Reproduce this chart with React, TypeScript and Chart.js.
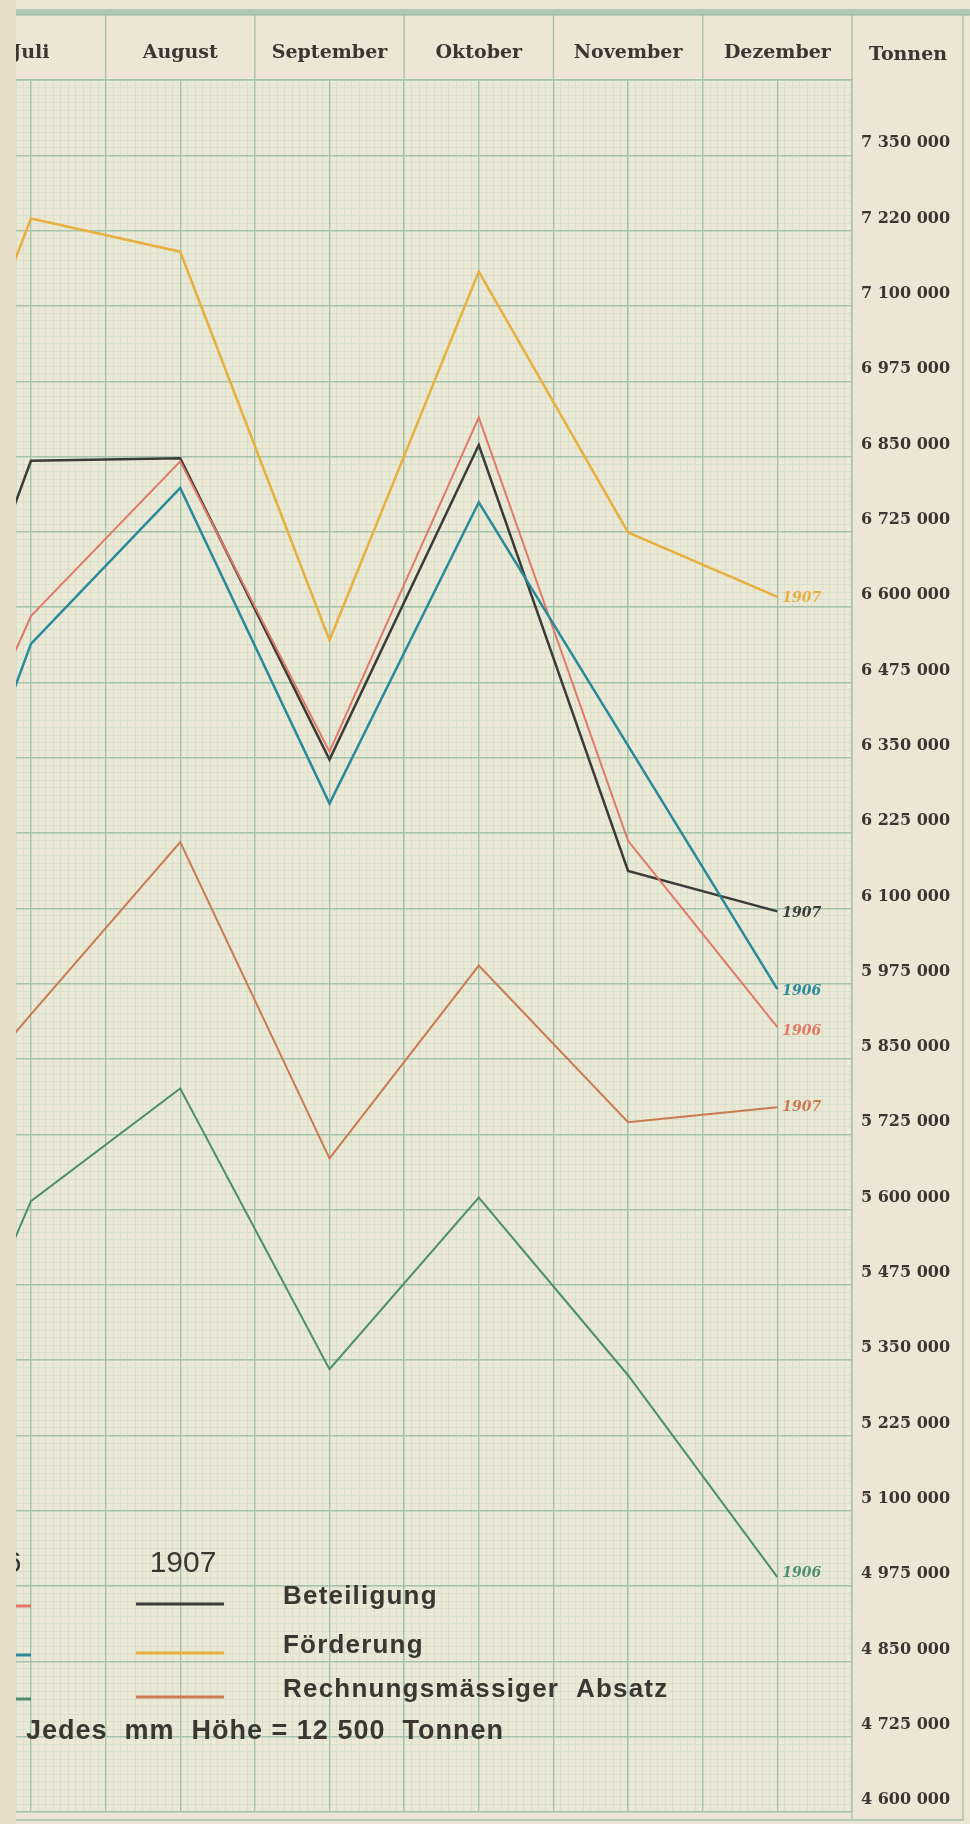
import React, { useEffect, useRef } from 'react';
import { Chart, registerables } from 'chart.js';

Chart.register(...registerables);

// ---- data ----
// x positions: Juni (off the left edge, only the entering segment is visible) .. Dezember
const monthPos = [-1, 0, 1, 2, 3, 4, 5];
const headerLabels = ['Juli', 'August', 'September', 'Oktober', 'November', 'Dezember'];
const tonnenLabels = [
  '7 350 000', '7 220 000', '7 100 000', '6 975 000', '6 850 000', '6 725 000',
  '6 600 000', '6 475 000', '6 350 000', '6 225 000', '6 100 000', '5 975 000',
  '5 850 000', '5 725 000', '5 600 000', '5 475 000', '5 350 000', '5 225 000',
  '5 100 000', '4 975 000', '4 850 000', '4 725 000', '4 600 000',
];
const foerderung1907 = [6600000, 7245000, 7190000, 6545000, 7157000, 6724000, 6617000];
const beteiligung1907 = [6169000, 6843000, 6847000, 6347000, 6869000, 6162000, 6095000];
const beteiligung1906 = [6028000, 6585000, 6842000, 6360000, 6915000, 6212000, 5903000];
const foerderung1906 = [5865000, 6539000, 6798000, 6274000, 6774000, 6370000, 5966000];
const absatz1907 = [5634000, 5924000, 6210000, 5685000, 6005000, 5745000, 5770000];
const absatz1906 = [5034000, 5614000, 5801000, 5335000, 5620000, 5325000, 4990000];

const legendYears = ['1906', '1907'];
const legendNames = ['Beteiligung', 'Förderung', 'Rechnungsmässiger  Absatz'];
const scaleNote = 'Jedes  mm  Höhe = 12 500  Tonnen';
const unitLabel = 'Tonnen';

// ---- styles ----
const C_BLACK = '#3b3c37';
const C_ORANGE = '#E8B13F';
const C_BROWN = '#C97A52';
const C_RED = '#E27868';
const C_TEAL = '#2A8A99';
const C_GREEN = '#4E8E6E';
const PAPER = '#EBE9D6';
const MINOR = '#D6E0CD';
const MAJOR = '#A5C3AC';
const TEXT = '#3a3631';

const Y_MIN = 4600000;
const Y_MAX = 7475000;
const X_MIN = -0.1;
const X_MAX = 5.5;

function toPoints(vals: number[]) {
  return vals.map((v, i) => ({ x: monthPos[i], y: v }));
}

function rangeTicks(min: number, max: number, step: number) {
  const out: { value: number }[] = [];
  const n = Math.round((max - min) / step);
  for (let i = 0; i <= n; i++) out.push({ value: +(min + i * step).toFixed(6) });
  return out;
}

function noPad(s: any) {
  s.paddingLeft = 0;
  s.paddingRight = 0;
  s.paddingTop = 0;
  s.paddingBottom = 0;
}

const paperPlugin = {
  id: 'paper',
  beforeDraw(chart: any) {
    const { ctx, chartArea } = chart;
    ctx.save();
    ctx.fillStyle = PAPER;
    ctx.fillRect(chartArea.left, chartArea.top, chartArea.right - chartArea.left, chartArea.bottom - chartArea.top);
    // top band
    ctx.fillStyle = '#AFCAB3';
    ctx.fillRect(0, 9, chart.width, 6);
    ctx.fillStyle = '#9BBDA3';
    ctx.fillRect(0, 14, chart.width, 1.5);
    // header dividers at month boundaries
    const xs = chart.scales.x;
    ctx.strokeStyle = MAJOR;
    ctx.lineWidth = 1.4;
    for (let b = 0.5; b <= 5.5; b += 1) {
      const px = xs.getPixelForValue(b);
      ctx.beginPath();
      ctx.moveTo(px, 15);
      ctx.lineTo(px, chartArea.top);
      ctx.stroke();
    }
    // right column frame
    const rightX = chartArea.right + 111;
    ctx.beginPath();
    ctx.moveTo(rightX, 15);
    ctx.lineTo(rightX, 1820);
    ctx.moveTo(chartArea.right, chartArea.bottom);
    ctx.lineTo(chartArea.right, 1820);
    ctx.moveTo(0, 1820);
    ctx.lineTo(rightX, 1820);
    ctx.stroke();
    // unit header
    ctx.fillStyle = TEXT;
    ctx.font = 'bold 19px "DejaVu Serif"';
    ctx.textAlign = 'center';
    ctx.textBaseline = 'middle';
    ctx.fillText(unitLabel, chartArea.right + 56, 55);
    ctx.restore();
  },
};

const notesPlugin = {
  id: 'notes',
  afterDatasetsDraw(chart: any) {
    const { ctx } = chart;
    const xs = chart.scales.x;
    const ys = chart.scales.y;
    ctx.save();
    // end labels
    const ex = xs.getPixelForValue(5) + 5;
    const ends: [string, string, number, number][] = [
      ['1907', C_ORANGE, foerderung1907[6], 1],
      ['1907', C_BLACK, beteiligung1907[6], 2],
      ['1906', C_TEAL, foerderung1906[6], 2],
      ['1906', C_RED, beteiligung1906[6], 4],
      ['1907', C_BROWN, absatz1907[6], 0],
      ['1906', C_GREEN, absatz1906[6], -4],
    ];
    ctx.font = 'italic bold 14px "DejaVu Serif"';
    ctx.textAlign = 'left';
    ctx.textBaseline = 'middle';
    for (const [t, c, v, dy] of ends) {
      ctx.fillStyle = c;
      ctx.fillText(t, ex, ys.getPixelForValue(v) + dy);
    }
    // legend
    ctx.fillStyle = TEXT;
    ctx.font = '30px "Liberation Sans"';
    ctx.textAlign = 'center';
    ctx.fillText(legendYears[0], -28, 1564);
    ctx.fillText(legendYears[1], 167, 1564);
    const rows: [string, string, string, number][] = [
      [legendNames[0], C_RED, C_BLACK, 1604],
      [legendNames[1], C_TEAL, C_ORANGE, 1653],
      [legendNames[2], C_GREEN, C_BROWN, 1697],
    ];
    ctx.lineWidth = 3;
    for (const [name, c6, c7, y] of rows) {
      ctx.strokeStyle = c6;
      ctx.beginPath();
      ctx.moveTo(-60, y + 2);
      ctx.lineTo(15, y + 2);
      ctx.stroke();
      ctx.strokeStyle = c7;
      ctx.beginPath();
      ctx.moveTo(120, y);
      ctx.lineTo(208, y);
      ctx.stroke();
      ctx.fillStyle = TEXT;
      ctx.font = 'bold 26px "Liberation Sans"';
      ctx.textAlign = 'left';
      (ctx as any).letterSpacing = '1.2px';
      ctx.fillText(name, 267, y - 7);
    }
    ctx.font = 'bold 27px "Liberation Sans"';
    (ctx as any).letterSpacing = '1px';
    ctx.fillText(scaleNote, 10, 1732);
    ctx.restore();
  },
};

export default function App() {
  const ref = useRef<HTMLCanvasElement | null>(null);
  useEffect(() => {
    if (!ref.current) return;
    const mk = (label: string, vals: number[], color: string, w: number) => ({
      label,
      data: toPoints(vals),
      borderColor: color,
      backgroundColor: color,
      borderWidth: w,
      pointRadius: 0,
      tension: 0,
      fill: false,
      clip: 0,
    });
    const chart = new Chart(ref.current, {
      type: 'line',
      data: {
        datasets: [
          mk('Förderung 1907', foerderung1907, C_ORANGE, 2.5),
          mk('Förderung 1906', foerderung1906, C_TEAL, 2.5),
          mk('Beteiligung 1906', beteiligung1906, C_RED, 2),
          mk('Beteiligung 1907', beteiligung1907, C_BLACK, 2.5),
          mk('Absatz 1907', absatz1907, C_BROWN, 2),
          mk('Absatz 1906', absatz1906, C_GREEN, 2),
        ],
      },
      options: {
        animation: false,
        responsive: false,
        maintainAspectRatio: false,
        devicePixelRatio: 1,
        events: [],
        layout: { autoPadding: false, padding: { top: 15, right: 7, bottom: 12, left: 0 } },
        plugins: { legend: { display: false }, tooltip: { enabled: false } },
        scales: {
          xMinor: {
            type: 'linear', position: 'bottom', min: X_MIN, max: X_MAX,
            afterBuildTicks: (s: any) => { s.ticks = rangeTicks(X_MIN, X_MAX, 0.05); },
            afterFit: (s: any) => { s.height = 0; noPad(s); },
            ticks: { display: false },
            grid: { color: MINOR, lineWidth: 1, drawTicks: false, z: -2 },
            border: { display: false },
          },
          yMinor: {
            type: 'linear', position: 'left', min: Y_MIN, max: Y_MAX,
            afterBuildTicks: (s: any) => { s.ticks = rangeTicks(Y_MIN, Y_MAX, 12500); },
            afterFit: (s: any) => { s.width = 0; noPad(s); },
            ticks: { display: false },
            grid: { color: MINOR, lineWidth: 1, drawTicks: false, z: -2 },
            border: { display: false },
          },
          x: {
            type: 'linear', position: 'top', min: X_MIN, max: X_MAX,
            afterBuildTicks: (s: any) => { s.ticks = rangeTicks(0, 5.5, 0.5); },
            afterFit: (s: any) => { s.height = 65; noPad(s); },
            ticks: {
              autoSkip: false, maxRotation: 0, padding: 16, color: TEXT,
              font: { family: 'DejaVu Serif', weight: 'bold', size: 19 },
              callback: (v: any) => (Number.isInteger(v) ? headerLabels[v] : ''),
            },
            grid: { color: MAJOR, lineWidth: 1.4, drawTicks: false },
            border: { color: MAJOR, width: 1.4 },
          },
          y: {
            type: 'linear', position: 'right', min: Y_MIN, max: Y_MAX,
            afterBuildTicks: (s: any) => { s.ticks = rangeTicks(Y_MIN, Y_MAX, 125000); },
            afterFit: (s: any) => { s.width = 111; noPad(s); },
            ticks: {
              autoSkip: false, crossAlign: 'near', padding: 9, labelOffset: -12, color: TEXT,
              font: { family: 'DejaVu Serif', weight: 'bold', size: 16 },
              callback: (v: any) => {
                const idx = Math.round((7350000 - v) / 125000);
                return idx >= 0 && idx < tonnenLabels.length ? tonnenLabels[idx] : '';
              },
            },
            grid: { color: MAJOR, lineWidth: 1.4, drawTicks: false },
            border: { color: MAJOR, width: 1.4 },
          },
        },
      } as any,
      plugins: [paperPlugin, notesPlugin],
    });
    return () => chart.destroy();
  }, []);
  return (
    <div style={{ position: 'absolute', left: 0, top: 0, width: 970, height: 1824, background: '#E6DCC6', overflow: 'hidden' }}>
      <canvas
        ref={ref}
        width={954}
        height={1824}
        style={{ position: 'absolute', left: 16, top: 0, width: 954, height: 1824, background: '#EDE6D4' }}
      />
    </div>
  );
}
